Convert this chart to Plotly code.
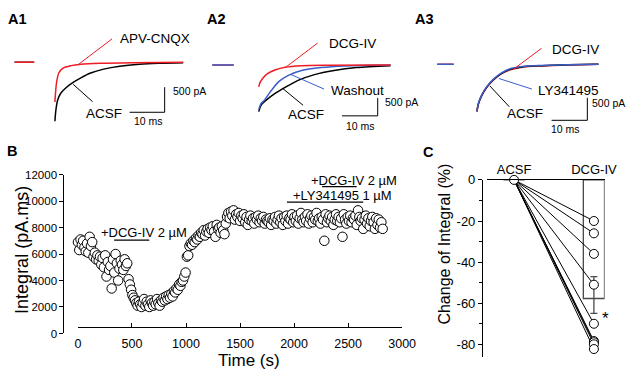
import plotly.graph_objects as go

W, H = 641, 381
FONT = "Liberation Sans, Arial, Helvetica, sans-serif"
RED = "#f01c24"
BLUE = "#3a5fc8"
BLACK = "#000000"

# ---------------- Panel A1 (ms, pA) ----------------
a1_base_t = [-11.5, -5.9]
a1_base_i = [0, 0]
a1_apv_t = [0, 0.47, 1.11, 2.3, 4.6, 7.4, 13, 22.1, 36.6]
a1_apv_i = [-788, -404, -212, -115, -65, -38, -19, -8, 0]
a1_acsf_t = [0, 0.28, 0.75, 1.67, 3.25, 5.1, 7.4, 10.2, 13.9, 18.5, 24.1, 29.6, 36.6]
a1_acsf_i = [-1173, -950, -758, -615, -500, -404, -308, -212, -135, -77, -38, -19, -8]

# ---------------- Panel A2 ----------------
a2_base_t = [-13.0, -7.0]
a2_base_i = [0, 0]
a2_dcg_t = [0, 0.35, 1.09, 2.45, 4.7, 7.4, 12, 19.2, 36.9]
a2_dcg_i = [-617, -497, -380, -245, -136, -63, -19, -5, 0]
a2_wash_t = [0, 0.63, 1.53, 3.35, 5.6, 8.3, 12, 17.5, 23.9, 36.9]
a2_wash_i = [-1250, -1087, -997, -742, -470, -291, -155, -73, -27, 0]
a2_acsf_t = [0, 0.63, 2.0, 4.7, 7.4, 11, 15.6, 21.1, 27.4, 36.9]
a2_acsf_i = [-1313, -1133, -997, -796, -633, -435, -272, -155, -73, -19]

# ---------------- Panel A3 ----------------
a3_base_t = [-11.1, -6.5]
a3_base_i = [0, 0]
a3_t = [0, 0.45, 1.36, 2.73, 4.5, 6.8, 9.1, 12.7, 18.2, 25.5, 34]
a3_dcg_i = [-1049, -872, -694, -514, -358, -214, -128, -64, -36, -15, 0]
a3_ly_i = [-1040, -860, -680, -500, -340, -195, -105, -50, -25, -8, 0]
a3_acsf_i = [-1045, -868, -690, -508, -350, -205, -118, -60, -32, -12, 0]

# ---------------- Panel B ----------------
time_s = [
    0, 12, 24, 36, 48, 60, 72, 84, 96, 108,
    120, 132, 144, 156, 168, 180, 192, 204, 216, 228,
    240, 252, 264, 276, 288, 300, 312, 324, 336, 348,
    360, 372, 384, 396, 408, 420, 432, 444, 456, 468,
    480, 492, 504, 516, 528, 540, 552, 564, 576, 588,
    600, 612, 624, 636, 648, 660, 672, 684, 696, 708,
    720, 732, 744, 756, 768, 780, 792, 804, 816, 828,
    840, 852, 864, 876, 888, 900, 912, 924, 936, 948,
    960, 972, 984, 996, 1008, 1020, 1032, 1044, 1056, 1068,
    1080, 1092, 1104, 1116, 1128, 1140, 1152, 1164, 1176, 1188,
    1200, 1212, 1224, 1236, 1248, 1260, 1272, 1284, 1296, 1308,
    1320, 1332, 1344, 1356, 1368, 1380, 1392, 1404, 1416, 1428,
    1440, 1452, 1464, 1476, 1488, 1500, 1512, 1524, 1536, 1548,
    1560, 1572, 1584, 1596, 1608, 1620, 1632, 1644, 1656, 1668,
    1680, 1692, 1704, 1716, 1728, 1740, 1752, 1764, 1776, 1788,
    1800, 1812, 1824, 1836, 1848, 1860, 1872, 1884, 1896, 1908,
    1920, 1932, 1944, 1956, 1968, 1980, 1992, 2004, 2016, 2028,
    2040, 2052, 2064, 2076, 2088, 2100, 2112, 2124, 2136, 2148,
    2160, 2172, 2184, 2196, 2208, 2220, 2232, 2244, 2256, 2268,
    2280, 2292, 2304, 2316, 2328, 2340, 2352, 2364, 2376, 2388,
    2400, 2412, 2424, 2436, 2448, 2460, 2472, 2484, 2496, 2508,
    2520, 2532, 2544, 2556, 2568, 2580, 2592, 2604, 2616, 2628,
    2640, 2652, 2664, 2676, 2688, 2700, 2712, 2724, 2736, 2748,
    2760, 2772, 2784, 2796, 2808, 2820,
]
integral = [
    6900, 6300, 7100, 6700, 7000, 6500, 6200, 6800, 6100, 7300,
    6600, 6900, 5800, 6100, 5600, 5900, 5500, 5800, 5200, 5700,
    5000, 5900, 4300, 5400, 4800, 5100, 3400, 5600, 4600, 6000,
    5300, 4000, 4900, 5500, 5200, 4800, 5600, 5100, 5300, 4100,
    3700, 3300, 2900, 2700, 2500, 2300, 2100, 2400, 2200, 2000,
    2300, 2600, 2100, 2400, 2200, 2000, 2500, 2300, 2100, 2400,
    2200, 2600, 2300, 2100, 2500, 2400, 2700, 2500, 2800, 2600,
    2900, 2700, 3000, 2800, 3200, 3100, 3400, 3300, 3700, 3600,
    3900, 4000, 4300, 4600, 5800, 5900, 6600, 6800, 6700, 7000,
    6900, 7200, 7100, 7400, 7300, 7600, 7500, 7800, 7400, 7700,
    7900, 7600, 8000, 7800, 8100, 7700, 7300, 8200, 7900, 8000,
    7600, 8100, 7800, 7500, 8300, 8800, 9100, 8700, 9200, 8900,
    9300, 8600, 9000, 8800, 9100, 8500, 8900, 8700, 9000, 8400,
    8800, 8200, 8600, 8900, 8500, 8700, 8300, 8800, 8600, 8900,
    8400, 8700, 8500, 8800, 8300, 8600, 8500, 8400, 8700, 8200,
    8600, 8500, 8800, 8300, 8600, 8900, 8400, 8700, 8200, 8800,
    8500, 8900, 8300, 8700, 8600, 9000, 8400, 8800, 8500, 8900,
    8300, 8700, 9100, 8600, 8400, 8800, 8500, 9000, 8300, 8700,
    8900, 8400, 8800, 8600, 9100, 8500, 8700, 8300, 8800, 8600,
    7000, 9000, 8400, 8700, 8900, 8500, 8800, 8200, 8600, 9000,
    8500, 8800, 8400, 8700, 7300, 9000, 8600, 8300, 8800, 8500,
    8900, 8400, 8700, 8600, 8900, 8200, 9300, 8800, 8500, 8700,
    7900, 8600, 8900, 8300, 8700, 8100, 8500, 8800, 8400, 7900,
    8700, 8200, 8600, 8000, 8400, 7900,
]
b_xticks = [0, 500, 1000, 1500, 2000, 2500, 3000]
b_yticks = [0, 2000, 4000, 6000, 8000, 10000, 12000]
dcg1_bar_t = [335, 660]
dcg1_bar_i = [7050, 7050]
dcg2_bar_t = [2259, 2579]
dcg2_bar_i = [11087, 11087]
ly_bar_t = [1934, 2640]
ly_bar_i = [9920, 9920]

# ---------------- Panel C ----------------
c_categories = ["ACSF", "DCG-IV"]
c_dcg_values = [-20, -26, -36, -51, -70, -78.4, -79, -80, -82.3]
c_bar_means = [0, -57.7]
c_err_up = [0, 10.6]
c_err_down = [0, 7.2]
c_yticks = [0, -20, -40, -60, -80]
c_yticktext = ["0", "-20", "-40", "-60", "-80"]


def fx(px):
    return px / W


def fy(py):
    return 1 - py / H


fig = go.Figure()


def line(x, y, xa, ya, color, width=1.5, spline=True):
    fig.add_trace(go.Scatter(
        x=x, y=y, xaxis=xa, yaxis=ya, mode="lines",
        line=dict(color=color, width=width, shape="spline" if spline else "linear", smoothing=0.8),
        hoverinfo="skip", cliponaxis=False))


# A1
line(a1_base_t, a1_base_i, "x3", "y3", BLACK)
line(a1_base_t, a1_base_i, "x3", "y3", RED)
line(a1_acsf_t, a1_acsf_i, "x3", "y3", BLACK)
line(a1_apv_t, a1_apv_i, "x3", "y3", RED)
line([6.86, 16.3], [-33, 467], "x3", "y3", RED, 1, False)
line([5.2, 10.75], [-437, -783], "x3", "y3", BLACK, 1, False)
line([21.3, 31.3, 31.3], [-994, -994, -494], "x3", "y3", BLACK, 1, False)

# A2
line(a2_base_t, a2_base_i, "x4", "y4", RED)
line(a2_base_t, a2_base_i, "x4", "y4", BLUE)
line(a2_acsf_t, a2_acsf_i, "x4", "y4", BLACK)
line(a2_wash_t, a2_wash_i, "x4", "y4", BLUE)
line(a2_dcg_t, a2_dcg_i, "x4", "y4", RED)
line([7.44, 16.5], [-73, 617], "x4", "y4", RED, 1, False)
line([9.07, 18.3], [-272, -679], "x4", "y4", BLUE, 1, False)
line([6.7, 12.4], [-660, -1133], "x4", "y4", BLACK, 1, False)
line([23.3, 33.3, 33.3], [-1432, -1432, -932], "x4", "y4", BLACK, 1, False)

# A3
line(a3_base_t, a3_base_i, "x5", "y5", RED)
line(a3_base_t, a3_base_i, "x5", "y5", BLUE)
line(a3_t, a3_dcg_i, "x5", "y5", RED)
line(a3_t, a3_acsf_i, "x5", "y5", BLACK)
line(a3_t, a3_ly_i, "x5", "y5", BLUE)
line([10.4, 18.1], [-101, 355], "x5", "y5", RED, 1, False)
line([6.16, 15.4], [-315, -550], "x5", "y5", BLUE, 1, False)
line([3.62, 9.07], [-480, -942], "x5", "y5", BLACK, 1, False)
line([20.9, 30.9, 30.9], [-1242, -1242, -743], "x5", "y5", BLACK, 1, False)

# B scatter
fig.add_trace(go.Scatter(
    x=time_s, y=integral, xaxis="x", yaxis="y", mode="markers",
    marker=dict(size=9.5, color="white", line=dict(color="black", width=1)),
    hoverinfo="skip", cliponaxis=False))
line(dcg1_bar_t, dcg1_bar_i, "x", "y", BLACK, 1.2, False)
line(dcg2_bar_t, dcg2_bar_i, "x", "y", BLACK, 1.2, False)
line(ly_bar_t, ly_bar_i, "x", "y", BLACK, 1.2, False)

# C
fig.add_trace(go.Bar(
    x=c_categories, y=c_bar_means, xaxis="x2", yaxis="y2", width=0.265,
    marker=dict(color="white", line=dict(color="#4a4a4a", width=1.3)),
    error_y=dict(type="data", symmetric=False, array=c_err_up, arrayminus=c_err_down,
                 color="#4a4a4a", thickness=1.3, width=3.5),
    hoverinfo="skip"))
lx, ly = [], []
for v in c_dcg_values:
    lx += ["ACSF", "DCG-IV", None]
    ly += [0, v, None]
fig.add_trace(go.Scatter(x=lx, y=ly, xaxis="x2", yaxis="y2", mode="lines",
                         line=dict(color="black", width=1), hoverinfo="skip", cliponaxis=False))
fig.add_trace(go.Scatter(
    x=["ACSF"] + ["DCG-IV"] * len(c_dcg_values), y=[0] + c_dcg_values,
    xaxis="x2", yaxis="y2", mode="markers",
    marker=dict(size=9, color="white", line=dict(color="black", width=1)),
    hoverinfo="skip", cliponaxis=False))

hidden = dict(visible=False, showgrid=False, zeroline=False, fixedrange=True)
axis_font = dict(family=FONT, size=12.5, color="black")

fig.update_layout(
    width=W, height=H, margin=dict(l=0, r=0, t=0, b=0),
    paper_bgcolor="white", plot_bgcolor="white", showlegend=False,
    font=dict(family=FONT, color="black"),
    xaxis=dict(domain=[fx(77), fx(410)], range=[0, 3000], anchor="free", position=fy(331),
               tickvals=b_xticks, ticks="inside", ticklen=4, tickcolor="black",
               showline=True, linecolor="black", linewidth=1, showgrid=False, zeroline=False,
               tickfont=axis_font, ticklabelstandoff=5),
    yaxis=dict(domain=[fy(338), fy(173.5)], range=[0, 12000], anchor="free", position=fx(62),
               tickvals=b_yticks, tickformat="d", ticks="outside", ticklen=4, tickcolor="black",
               showline=True, linecolor="black", linewidth=1, showgrid=False, zeroline=False,
               tickfont=dict(family=FONT, size=11.5, color="black")),
    xaxis2=dict(domain=[fx(497), fx(618)], type="category", categoryorder="array",
                categoryarray=c_categories, range=[-0.341, 1.134], anchor="y2", side="top",
                showline=True, linecolor="black", linewidth=1, ticks="", showgrid=False,
                zeroline=False, tickfont=dict(family=FONT, size=13, color="black")),
    yaxis2=dict(domain=[fy(362), fy(179)], range=[-86, 0], anchor="free", position=fx(492),
                tickvals=c_yticks, ticktext=c_yticktext, ticks="outside", ticklen=4,
                tickcolor="black",
                minor=dict(dtick=10, tick0=0, ticks="outside", ticklen=3, tickcolor="black"),
                showline=True, linecolor="black", linewidth=1, showgrid=False, zeroline=False,
                tickfont=dict(family=FONT, size=13, color="black")),
    xaxis3=dict(domain=[fx(0), fx(210)], range=[-14.8, 43.5], anchor="y3", **hidden),
    yaxis3=dict(domain=[fy(135), fy(20)], range=[-1494, 717], anchor="x3", **hidden),
    xaxis4=dict(domain=[fx(205), fx(425)], range=[-15.72, 44.22], anchor="y4", **hidden),
    yaxis4=dict(domain=[fy(135), fy(20)], range=[-2038, 1087], anchor="x4", **hidden),
    xaxis5=dict(domain=[fx(420), fx(641)], range=[-18.2, 42.0], anchor="y5", **hidden),
    yaxis5=dict(domain=[fy(135), fy(20)], range=[-1621, 841.5], anchor="x5", **hidden),
)

ann = []


def text(t, x, y, xref, yref, size=13, xanchor="left", angle=0, bold=False, color="black"):
    ann.append(dict(text=f"<b>{t}</b>" if bold else t, x=x, y=y, xref=xref, yref=yref,
                    xanchor=xanchor, yanchor="middle", showarrow=False, textangle=angle,
                    font=dict(family=FONT, size=size, color=color)))


# panel letters
text("A1", fx(3), fy(12), "paper", "paper", 14.5, bold=True)
text("A2", fx(208), fy(12), "paper", "paper", 14.5, bold=True)
text("A3", fx(421), fy(12), "paper", "paper", 14.5, bold=True)
text("B", fx(2), fy(149), "paper", "paper", 14.5, bold=True)
text("C", fx(429), fy(150), "paper", "paper", 14.5, bold=True)

# A1 labels
text("APV-CNQX", 18, 467, "x3", "y3", 13.5)
text("ACSF", 14.1, -1015, "x3", "y3", 13.5, "center")
text("500 pA", 33, -571, "x3", "y3", 10.5)
text("10 ms", 26.6, -1167, "x3", "y3", 10.5, "center")
# A2 labels
text("DCG-IV", 19.15, 617, "x4", "y4", 13.5)
text("Washout", 19.7, -707, "x4", "y4", 13.5)
text("ACSF", 13.2, -1405, "x4", "y4", 13.5, "center")
text("500 pA", 34.7, -1052, "x4", "y4", 10.5)
text("10 ms", 28.6, -1704, "x4", "y4", 10.5, "center")
# A3 labels
text("DCG-IV", 20.5, 328, "x5", "y5", 13.5)
text("LY341495", 16.4, -572, "x5", "y5", 13.5)
text("ACSF", 13.4, -1086, "x5", "y5", 13.5, "center")
text("500 pA", 31.7, -857, "x5", "y5", 10.5)
text("10 ms", 24.7, -1443, "x5", "y5", 10.5, "center")

# B labels
text("Integral (pA.ms)", fx(20), fy(251), "paper", "paper", 18, "center", -90)
text("Time (s)", fx(253), fy(366), "paper", "paper", 17, "center")
text("+DCG-IV 2 µM", 613, 7600, "x", "y", 13, "center")
text("+DCG-IV 2 µM", 2559, 11560, "x", "y", 13, "center")
text("+LY341495 1 µM", 2446, 10400, "x", "y", 13, "center")

# C labels
text("Change of Integral (%)", fx(454), fy(245), "paper", "paper", 16, "center", -90)
text("*", 1, -67.5, "x2", "y2", 17, "center")
ann[-1]["xshift"] = 12

fig.update_layout(annotations=ann)
fig.write_html("out.html", config={"displayModeBar": False},
               post_script="document.body.style.margin='0px';document.body.style.overflow='hidden';")
